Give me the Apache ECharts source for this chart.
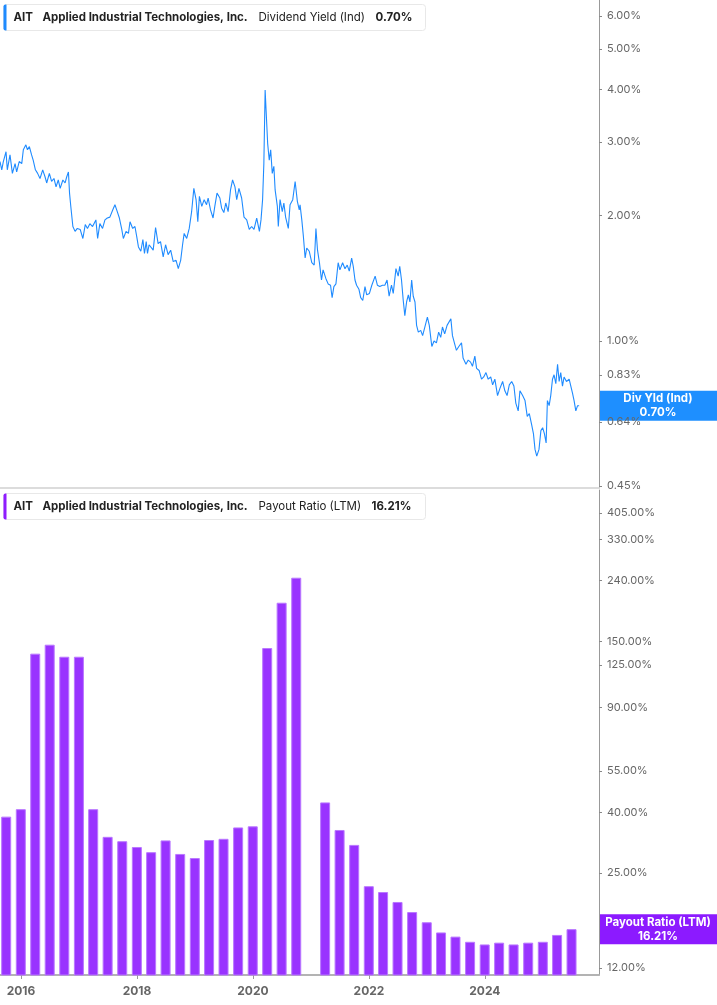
<!DOCTYPE html>
<html>
<head>
<meta charset="utf-8">
<script src="https://cdn.jsdelivr.net/npm/echarts@6/dist/echarts.min.js"></script>
<style>
  html, body { margin: 0; padding: 0; background: #fff; }
  #chart { width: 717px; height: 1005px; }
</style>
</head>
<body>
<div id="chart"></div>
<script>
// dividend yield (ind), %
var yieldDates = [
  '2015-08-22','2015-09-02','2015-09-12','2015-09-29','2015-10-07','2015-10-24','2015-11-08','2015-11-25','2015-12-05','2015-12-21',
  '2016-01-06','2016-01-16','2016-02-01','2016-02-11','2016-02-23','2016-03-08','2016-03-18','2016-04-01','2016-04-15','2016-04-30',
  '2016-05-17','2016-06-01','2016-06-11','2016-06-28','2016-07-12','2016-07-27','2016-08-09','2016-08-23','2016-09-04','2016-09-21',
  '2016-10-05','2016-10-15','2016-10-26','2016-11-02','2016-11-10','2016-11-23','2016-12-07','2016-12-21',
  '2017-01-08','2017-01-25','2017-02-09','2017-02-23','2017-03-10','2017-03-27','2017-04-17','2017-04-28','2017-05-12','2017-05-29',
  '2017-06-13','2017-06-28','2017-07-14','2017-08-01','2017-08-15','2017-08-26','2017-09-12','2017-09-27','2017-10-07','2017-10-24',
  '2017-11-08','2017-11-18','2017-12-05','2017-12-19','2017-12-30',
  '2018-01-10','2018-01-25','2018-02-07','2018-02-17','2018-02-28','2018-03-08','2018-03-18','2018-03-27','2018-04-13','2018-04-28',
  '2018-05-14','2018-05-29','2018-06-15','2018-06-30','2018-07-16','2018-08-01','2018-08-17','2018-09-04','2018-09-18','2018-10-03',
  '2018-10-15','2018-10-25','2018-11-10','2018-11-26','2018-12-11','2018-12-25',
  '2019-01-08','2019-01-19','2019-01-29','2019-02-13','2019-02-28','2019-03-15','2019-03-25','2019-04-09','2019-04-25','2019-05-06',
  '2019-05-20','2019-06-07','2019-06-18','2019-07-02','2019-07-14','2019-07-29','2019-08-13','2019-08-26','2019-09-10','2019-09-21',
  '2019-10-05','2019-10-22','2019-11-06','2019-11-23','2019-12-09','2019-12-24',
  '2020-01-08','2020-01-25','2020-02-11','2020-02-21','2020-03-02','2020-03-10','2020-03-18','2020-03-24','2020-04-03','2020-04-13',
  '2020-04-22','2020-05-02','2020-05-12','2020-05-20','2020-06-03','2020-06-09','2020-06-20','2020-07-04','2020-07-14','2020-07-25',
  '2020-08-11','2020-08-22','2020-09-08','2020-09-23','2020-10-07','2020-10-19','2020-10-24','2020-11-04','2020-11-14','2020-11-25',
  '2020-12-05','2020-12-21',
  '2021-01-06','2021-01-21','2021-02-01','2021-02-11','2021-02-23','2021-03-08','2021-03-18','2021-04-05','2021-04-19','2021-05-04',
  '2021-05-14','2021-05-25','2021-06-07','2021-06-21','2021-07-02','2021-07-19','2021-08-03','2021-08-17','2021-08-30','2021-09-14',
  '2021-09-24','2021-10-05','2021-10-15','2021-10-30','2021-11-10','2021-11-23','2021-12-07','2021-12-18',
  '2022-01-04','2022-01-19','2022-02-09','2022-02-23','2022-03-10','2022-03-27','2022-04-11','2022-04-25','2022-05-08','2022-05-23',
  '2022-06-03','2022-06-20','2022-07-04','2022-07-14','2022-07-25','2022-08-05','2022-08-15','2022-08-26','2022-09-06','2022-09-16',
  '2022-09-27','2022-10-07','2022-10-18','2022-10-28','2022-11-08','2022-11-23','2022-12-05','2022-12-19',
  '2023-01-04','2023-01-16','2023-02-01','2023-02-15','2023-03-02','2023-03-16','2023-03-29','2023-04-09','2023-04-23','2023-05-08',
  '2023-05-20','2023-06-01','2023-06-11','2023-06-26','2023-07-06','2023-07-21','2023-08-07','2023-08-17','2023-09-04','2023-09-18',
  '2023-10-03','2023-10-15','2023-10-30','2023-11-10','2023-11-26','2023-12-11','2023-12-25',
  '2024-01-08','2024-01-22','2024-02-07','2024-02-19','2024-03-04','2024-03-21','2024-04-05','2024-04-22','2024-05-06','2024-05-20',
  '2024-06-03','2024-06-18','2024-07-02','2024-07-14','2024-07-29','2024-08-09','2024-08-26','2024-09-10','2024-09-24','2024-10-07',
  '2024-10-22','2024-11-02','2024-11-12','2024-11-23','2024-12-07','2024-12-19','2024-12-30',
  '2025-01-10','2025-01-21','2025-01-29','2025-02-09','2025-02-19','2025-03-02','2025-03-12','2025-03-23','2025-04-03','2025-04-13',
  '2025-04-23','2025-05-04','2025-05-14','2025-05-29','2025-06-15','2025-06-26','2025-07-06','2025-07-16','2025-07-27','2025-08-07',
  '2025-08-17'
];
var yieldValues = [
  2.69,2.57,2.69,2.84,2.57,2.79,2.52,2.66,2.54,2.69,
  2.66,2.87,2.95,2.87,2.92,2.79,2.71,2.57,2.52,2.45,
  2.57,2.47,2.39,2.52,2.41,2.45,2.34,2.43,2.32,2.43,
  2.39,2.47,2.54,2.26,2.10,1.88,1.83,1.86,
  1.85,1.76,1.90,1.86,1.91,1.88,1.95,1.76,1.91,1.86,
  1.95,1.97,1.98,2.06,2.12,2.06,1.97,1.85,1.76,1.83,
  1.81,1.93,1.86,1.88,1.78,
  1.68,1.64,1.75,1.62,1.73,1.62,1.70,1.70,1.65,1.87,
  1.71,1.73,1.59,1.70,1.61,1.65,1.55,1.56,1.49,1.56,
  1.70,1.81,1.76,1.86,2.04,2.32,
  2.18,1.93,2.22,2.10,2.18,2.12,2.20,2.06,1.97,2.10,
  2.26,2.20,2.08,2.03,2.14,2.04,2.30,2.43,2.34,2.18,
  2.32,2.20,1.98,1.95,1.85,1.88,
  1.85,1.97,1.83,1.95,2.18,2.66,3.99,3.57,2.97,2.71,
  2.87,2.52,2.62,2.30,2.10,1.88,2.18,2.04,2.14,1.98,
  1.86,2.12,2.18,2.41,2.16,2.06,2.12,1.95,1.78,1.58,
  1.67,1.64,
  1.54,1.52,1.86,1.65,1.54,1.40,1.48,1.41,1.37,1.36,
  1.27,1.35,1.37,1.54,1.48,1.54,1.49,1.52,1.47,1.58,
  1.51,1.40,1.36,1.33,1.27,1.25,1.35,1.29,
  1.30,1.36,1.43,1.36,1.35,1.36,1.36,1.40,1.28,1.36,
  1.30,1.49,1.43,1.51,1.40,1.25,1.15,1.24,1.29,1.24,
  1.40,1.28,1.24,1.09,1.05,1.06,1.03,1.08,
  1.14,1.09,0.97,1.00,0.99,1.05,1.02,1.08,1.04,1.09,
  1.08,1.13,1.03,0.98,0.95,0.97,0.99,0.91,0.88,0.90,
  0.89,0.87,0.92,0.86,0.85,0.81,0.82,
  0.84,0.81,0.82,0.785,0.81,0.74,0.77,0.80,0.76,0.74,
  0.785,0.80,0.78,0.71,0.68,0.76,0.74,0.72,0.66,0.67,
  0.63,0.60,0.55,0.53,0.55,0.61,0.62,
  0.60,0.57,0.72,0.70,0.74,0.81,0.83,0.79,0.88,0.80,
  0.84,0.78,0.82,0.80,0.81,0.81,0.75,0.72,0.68,0.70,
  0.70
];

// payout ratio (LTM), %, quarter ends
var payoutDates = [
  '2015-09-30','2015-12-31','2016-03-31','2016-06-30','2016-09-30','2016-12-31',
  '2017-03-31','2017-06-30','2017-09-30','2017-12-31','2018-03-31','2018-06-30',
  '2018-09-30','2018-12-31','2019-03-31','2019-06-30','2019-09-30','2019-12-31',
  '2020-03-31','2020-06-30','2020-09-30','2020-12-31','2021-03-31','2021-06-30',
  '2021-09-30','2021-12-31','2022-03-31','2022-06-30','2022-09-30','2022-12-31',
  '2023-03-31','2023-06-30','2023-09-30','2023-12-31','2024-03-31','2024-06-30',
  '2024-09-30','2024-12-31','2025-03-31','2025-06-30'
];
var payoutValues = [
  38.7, 41.0, 136.5, 146.3, 133.3, 133.3,
  41.0, 33.1, 32.0, 30.6, 29.4, 32.2,
  29.0, 28.1, 32.3, 32.6, 35.6, 35.9,
  142.6, 202.4, 245.6, null, 43.2, 34.9,
  31.1, 22.6, 21.6, 20.0, 18.5, 17.1,
  15.8, 15.3, 14.7, 14.4, 14.6, 14.4,
  14.6, 14.7, 15.5, 16.21
];

var yieldTicks = [0.45, 0.64, 0.83, 1.00, 2.00, 3.00, 4.00, 5.00, 6.00];
var payoutTicks = [12, 25, 40, 55, 90, 125, 150, 240, 330, 405];
var yearTicks = ['2016-01-01', '2018-01-01', '2020-01-01', '2022-01-01', '2024-01-01'];

var FONT = 'Inter, "Noto Sans", sans-serif';
var BLUE = '#1f8bff';
var PURPLE = '#9933ff';

function t(d) { return +new Date(d + 'T00:00:00Z'); }
function zip(a, b) {
  return a.map(function (d, i) { return [t(d), b[i]]; });
}
function pct(v) { return Number(v).toFixed(2) + '%'; }

var chart = echarts.init(document.getElementById('chart'), null, { renderer: 'canvas' });

var xMin = t('2015-08-22'), xMax = t('2025-12-20');
var yearTs = yearTicks.map(t);

var option = {
  animation: false,
  backgroundColor: '#fff',
  textStyle: { fontFamily: FONT },
  grid: [
    { left: 0, right: 118, top: 0, height: 488 },
    { left: 0, right: 118, top: 490, bottom: 30 }
  ],
  xAxis: [
    {
      type: 'value', gridIndex: 0, min: xMin, max: xMax,
      axisLine: { show: true, onZero: false, lineStyle: { color: '#dcdcdc', width: 2 } },
      axisTick: { show: false }, axisLabel: { show: false }, splitLine: { show: false }
    },
    {
      type: 'value', gridIndex: 1, min: xMin, max: xMax,
      axisLine: { show: true, onZero: false, lineStyle: { color: '#b3b3b3', width: 2 } },
      axisTick: { show: true, customValues: yearTs, length: 4, lineStyle: { color: '#999' } },
      axisLabel: {
        customValues: yearTs, color: '#666', fontSize: 12, fontWeight: 'bold', margin: 10,
        formatter: function (v) { return new Date(v).getUTCFullYear() + ''; }
      },
      splitLine: { show: false }
    }
  ],
  yAxis: [
    {
      type: 'log', logBase: 10, gridIndex: 0, position: 'right', min: 0.4446, max: 6.555,
      axisLine: { show: true, lineStyle: { color: '#999', width: 1 } },
      axisTick: { show: true, customValues: yieldTicks, length: 3, lineStyle: { color: '#888' } },
      axisLabel: { customValues: yieldTicks, color: '#666', fontSize: 11, margin: 8, formatter: pct },
      splitLine: { show: false }
    },
    {
      type: 'log', logBase: 10, gridIndex: 1, position: 'right', min: 11.37, max: 484,
      axisLine: { show: true, lineStyle: { color: '#999', width: 1 } },
      axisTick: { show: true, customValues: payoutTicks, length: 3, lineStyle: { color: '#888' } },
      axisLabel: { customValues: payoutTicks, color: '#666', fontSize: 11, margin: 8, formatter: pct },
      splitLine: { show: false }
    }
  ],
  series: [
    {
      name: 'Dividend Yield (Ind)', type: 'line', xAxisIndex: 0, yAxisIndex: 0,
      data: zip(yieldDates, yieldValues), showSymbol: false, symbol: 'none',
      lineStyle: { color: BLUE, width: 1.1 }, itemStyle: { color: BLUE }
    },
    {
      name: 'Payout Ratio (LTM)', type: 'bar', xAxisIndex: 1, yAxisIndex: 1,
      data: zip(payoutDates, payoutValues), barWidth: 10,
      itemStyle: { color: PURPLE, borderColor: '#b977ff', borderWidth: 1 }
    }
  ]
};
chart.setOption(option);

// legend boxes and last-value tags
function legendBox(top, color, metric, value, valueX) {
  var f = '11.5px ' + FONT;
  return {
    type: 'group', left: 3, top: top,
    children: [
      { type: 'rect', shape: { x: 0, y: 0, width: 422, height: 26, r: 3 },
        style: { fill: '#fff', stroke: '#e8e8e8', lineWidth: 1 } },
      { type: 'rect', shape: { x: 0, y: 0, width: 3, height: 26, r: [2, 0, 0, 2] }, style: { fill: color } },
      { type: 'text', x: 10, y: 13, style: { text: 'AIT', font: 'bold ' + f, fill: '#222', textVerticalAlign: 'middle' } },
      { type: 'text', x: 39, y: 13, style: { text: 'Applied Industrial Technologies, Inc.', font: 'bold ' + f, fill: '#222', textVerticalAlign: 'middle' } },
      { type: 'text', x: 255, y: 13, style: { text: metric, font: f, fill: '#222', textVerticalAlign: 'middle' } },
      { type: 'text', x: valueX, y: 13, style: { text: value, font: 'bold ' + f, fill: '#222', textVerticalAlign: 'middle' } }
    ]
  };
}
function valueTag(yAxisIndex, value, color, title) {
  var y = chart.convertToPixel({ yAxisIndex: yAxisIndex }, value);
  return {
    type: 'group', left: 599, top: y - 15,
    children: [
      { type: 'rect', shape: { x: 0, y: 0, width: 118, height: 30 }, style: { fill: color } },
      { type: 'text', x: 59, y: 15, style: {
          text: title + '\n' + pct(value), font: 'bold 11.5px ' + FONT, fill: '#fff',
          textAlign: 'center', textVerticalAlign: 'middle', lineHeight: 14 } }
    ]
  };
}
var lastYield = yieldValues[yieldValues.length - 1];
var lastPayout = payoutValues[payoutValues.length - 1];
chart.setOption({
  graphic: [
    legendBox(4, BLUE, 'Dividend Yield (Ind)', pct(lastYield), 372),
    legendBox(493, '#8f1cff', 'Payout Ratio (LTM)', pct(lastPayout), 368),
    valueTag(0, lastYield, '#1e8fff', 'Div Yld (Ind)'),
    valueTag(1, lastPayout, '#8c1aff', 'Payout Ratio (LTM)')
  ]
});
</script>
</body>
</html>
